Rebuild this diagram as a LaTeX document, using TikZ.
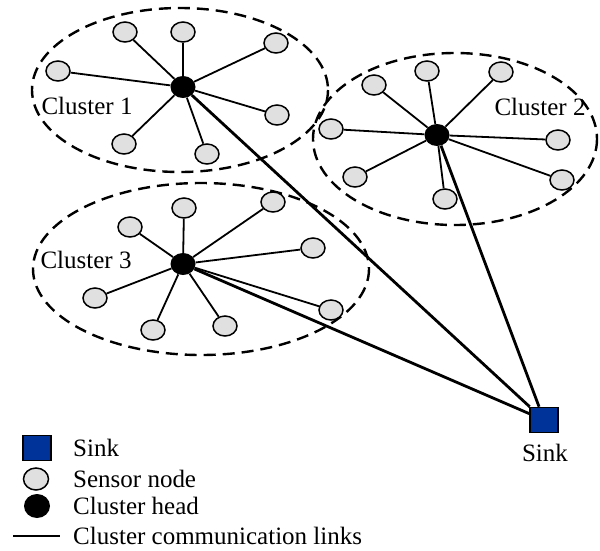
\documentclass[tikz,border=0pt]{standalone}
\usepackage{fontspec}
\setmainfont{Liberation Serif}
\usepackage{xcolor}
\usetikzlibrary{shapes.geometric}
\definecolor{sinkblue}{RGB}{0,51,153}
\definecolor{sensorgray}{RGB}{224,224,224}
\tikzset{
  sensor/.style={ellipse,draw,line width=1.5pt,fill=sensorgray,minimum width=24pt,minimum height=20pt,inner sep=0pt},
  head/.style={ellipse,fill=black,minimum width=25pt,minimum height=22pt,inner sep=0pt},
  sinkbox/.style={rectangle,draw,line width=1.5pt,fill=sinkblue,minimum width=28pt,minimum height=25pt,inner sep=0pt},
  link/.style={line width=1.8pt},
  chlink/.style={line width=2.8pt},
  cluster/.style={line width=2.4pt,dash pattern=on 12pt off 7pt},
  legtext/.style={anchor=west,inner sep=1pt}
}
\begin{document}
\begin{tikzpicture}[x=1pt,y=-1pt,font=\fontsize{25}{30}\selectfont]
    \useasboundingbox (0,0) rectangle (600,550);
    % Cluster borders
    \draw[cluster] (180,90) ellipse [x radius=148,y radius=82];
    \draw[cluster] (455,139) ellipse [x radius=142,y radius=86];
    \draw[cluster] (201,269) ellipse [x radius=168,y radius=86];
    \node[anchor=west] (lab1) at (38,106) {Cluster 1};
    \node[anchor=west] (lab2) at (491,107) {Cluster 2};
    \node[anchor=west] (lab3) at (37,260) {Cluster 3};
    % Cluster heads and sink
    \node[head] (h1) at (183,87) {};
    \node[head] (h2) at (437,135) {};
    \node[head] (h3) at (183,264) {};
    \node[sinkbox] (sink) at (544,420) {};
    \node (sinklab) at (545,453) {Sink};
    % Sensor nodes of cluster 1
    \foreach \n/\x/\y in {a/125/32,b/183/32,c/276/43,d/58/71,e/277/115,f/124/144,g/207/154} {
      \node[sensor] (s1\n) at (\x,\y) {};
      \draw[link] (h1) -- (s1\n);
    }
    % Sensor nodes of cluster 2
    \foreach \n/\x/\y in {a/374/85,b/427/71,c/501/72,d/331/129,e/558/140,f/355/177,g/562/180,h/445/199} {
      \node[sensor] (s2\n) at (\x,\y) {};
      \draw[link] (h2) -- (s2\n);
    }
    % Sensor nodes of cluster 3
    \foreach \n/\x/\y in {a/130/227,b/184/208,c/273/202,d/313/248,e/95/298,f/153/330,g/225/326,h/331/310} {
      \node[sensor] (s3\n) at (\x,\y) {};
      \draw[link] (h3) -- (s3\n);
    }
    % Heads to sink
    \draw[chlink] (h1) -- (sink);
    \draw[chlink] (h2) -- (sink);
    \draw[chlink] (h3) -- (sink);
    % Legend
    \node[sinkbox] (lsink) at (37,448) {};
    \node[sensor,minimum width=25pt,minimum height=22pt] (lsensor) at (36,479) {};
    \node[head,minimum width=26pt,minimum height=24pt] (lhead) at (37,506) {};
    \coordinate (lla) at (13,536);
    \coordinate (llb) at (60,536);
    \draw[link] (lla) -- (llb);
    \node[legtext] (tsink) at (72,448) {Sink};
    \node[legtext] (tsensor) at (72,479) {Sensor node};
    \node[legtext] (thead) at (72,506) {Cluster head};
    \node[legtext] (tlink) at (72,536) {Cluster communication links};
\end{tikzpicture}
\end{document}
